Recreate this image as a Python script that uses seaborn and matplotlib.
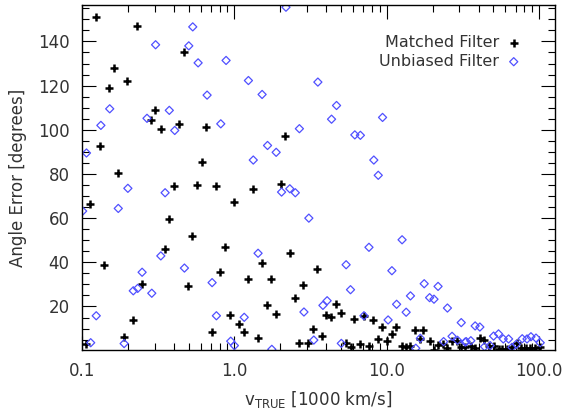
import numpy as np
import pandas as pd
import matplotlib
matplotlib.use('Agg')
import matplotlib.pyplot as plt
import matplotlib.ticker as mticker
import seaborn as sns

# matched filter points (black +)
matched_v = [0.123, 0.229, 0.162, 0.151, 0.198, 0.466, 0.301, 0.284, 0.329, 0.434, 0.131, 0.172, 0.402, 0.571,
             0.113, 0.374, 0.530, 0.349, 0.140, 0.247, 0.499, 0.216, 0.188, 0.107,
             0.655, 0.614, 2.16, 0.755, 1.33, 2.02,
             0.996, 0.873, 2.30, 1.52, 3.49, 0.809, 1.23, 1.75, 2.84, 2.49, 1.64, 1.88, 0.938, 1.08, 1.15, 0.714,
             1.43, 2.66, 3.05, 3.29, 3.78, 4.02, 4.31, 4.65, 5.00, 5.36, 5.84, 6.11, 6.66, 7.11, 7.63, 8.18, 8.75,
             9.33, 11.5, 10.8, 10.1, 15.4, 17.4, 16.5, 19.1, 12.5, 13.3, 14.3, 20.3, 21.7, 23.4, 25.0, 26.8, 28.9, 30.8,
             40.6, 43.6, 46.8, 50.2, 32.6, 35.6, 37.8, 54.1, 57.2, 61.5, 66.2, 71.0, 76.4, 81.8, 87.6, 93.9, 101.6]
matched_err = [150.9, 147.2, 128.1, 119.0, 122.2, 135.2, 108.9, 104.4, 100.3, 102.7, 92.8, 80.3, 74.5, 75.0,
               66.2, 59.6, 52.0, 45.9, 38.8, 30.2, 29.4, 13.7, 6.3, 3.0,
               101.4, 85.2, 97.1, 74.4, 73.2, 75.6,
               67.3, 46.9, 44.3, 39.7, 37.1, 35.6, 32.4, 32.4, 29.7, 24.0, 20.7, 16.7, 16.0, 12.1, 8.6, 8.6,
               5.6, 3.3, 3.3, 9.7, 6.6, 16.0, 15.2, 21.1, 17.2, 3.6, 1.8, 14.2, 3.2, 15.8, 2.1, 13.9, 5.2,
               10.9, 10.9, 7.4, 4.3, 9.5, 9.5, 5.2, 4.3, 2.3, 1.5, 2.0, 0.3, 2.6, 3.0, 1.2, 4.5, 4.5, 1.8,
               5.7, 4.8, 2.1, 2.1, 1.8, 2.1, 1.4, 0.8, 0.8, 0.8, 1.8, 3.5, 1.4, 1.4, 1.4, 1.4, 1.8]

# unbiased filter points (blue diamonds)
unbiased_v = [0.533, 0.304, 0.502, 0.578, 0.152, 0.133, 0.267, 0.374, 0.406, 0.107, 0.200, 0.351,
              0.173, 0.101, 0.329, 0.470, 0.248, 0.217, 0.232, 0.287, 0.124, 0.114, 0.189,
              0.882, 1.236, 1.52, 0.662, 3.53, 4.68, 4.34, 0.814, 2.67, 6.17, 6.71, 1.65, 1.88, 1.33, 8.22, 8.79,
              2.04, 2.31, 2.51, 2.18, 9.38,
              3.08, 7.64, 1.43, 5.41, 0.714, 5.78, 4.06, 3.81, 2.86, 0.762, 1.16, 7.08, 3.32, 0.946, 1.00, 1.76, 5.03,
              12.6, 10.8, 17.6, 21.7, 14.3, 19.1, 20.4, 11.6, 13.4, 25.0, 10.2, 30.8, 16.6, 23.6, 26.8, 29.1, 15.5, 32.7,
              38.0, 40.8, 33.2, 35.6, 50.2, 54.1, 58.1, 63.0, 77.4, 83.2, 88.3, 95.3, 101.6, 43.8, 47.7, 66.2, 70.8]
unbiased_err = [146.6, 138.5, 138.0, 130.3, 109.5, 102.0, 105.2, 108.8, 99.7, 89.5, 73.5, 71.5,
                64.4, 63.2, 42.9, 37.4, 35.5, 27.1, 28.2, 26.0, 15.8, 3.6, 3.2,
                131.4, 122.3, 116.0, 115.7, 121.6, 111.0, 104.8, 102.7, 100.5, 97.7, 97.5, 92.9, 89.8, 86.3, 86.3, 79.4,
                71.8, 73.3, 71.5, 155.5, 105.6,
                60.0, 46.8, 44.1, 38.9, 30.8, 27.6, 22.6, 20.5, 17.5, 15.8, 15.1, 15.8, 4.8, 4.3, 2.3, 0.6, 3.3,
                50.2, 36.2, 30.3, 29.1, 24.8, 24.0, 23.3, 21.0, 17.4, 19.3, 13.9, 12.7, 5.6, 4.1, 6.5, 4.7, 1.1, 3.9,
                11.2, 10.7, 4.1, 4.5, 6.6, 7.6, 5.3, 5.3, 5.4, 5.3, 6.3, 5.7, 3.6, 1.8, 2.3, 1.5, 2.9]

x_ticks = [0.1, 1.0, 10.0, 100.0]
x_ticklabels = ['0.1', '1.0', '10.0', '100.0']
y_ticks = [20, 40, 60, 80, 100, 120, 140]

sns.set_style('ticks')
plt.rcParams['font.family'] = ['DejaVu Sans']

fig = plt.figure(figsize=(5.67, 4.11), dpi=100)
ax = fig.add_axes([82 / 567, 1 - 350 / 411, (555 - 82) / 567, (350 - 5) / 411])

df_m = pd.DataFrame({'v': matched_v, 'err': matched_err})
df_u = pd.DataFrame({'v': unbiased_v, 'err': unbiased_err})

sns.scatterplot(data=df_m, x='v', y='err', ax=ax, marker='+', color='black',
                s=28, linewidth=1.8, label='Matched Filter')
sns.scatterplot(data=df_u, x='v', y='err', ax=ax, marker='D', facecolor='none',
                edgecolor='#5050ff', s=17, linewidth=0.9, label='Unbiased Filter')

ax.set_xscale('log')
ax.set_xlim(0.1, 127)
ax.set_ylim(0.3, 156.5)
ax.set_xticks(x_ticks)
ax.set_xticklabels(x_ticklabels)
ax.xaxis.set_minor_locator(mticker.LogLocator(base=10, subs=np.arange(2, 10)))
ax.xaxis.set_minor_formatter(mticker.NullFormatter())
ax.set_yticks(y_ticks)
ax.yaxis.set_minor_locator(mticker.MultipleLocator(5))

txt = '#333333'
ax.tick_params(which='both', direction='in', top=True, right=True, colors='black',
               labelcolor=txt, labelsize=12, width=0.8)
ax.tick_params(which='major', length=10, pad=9)
ax.tick_params(which='minor', length=5)
for sp in ax.spines.values():
    sp.set_color('black')
    sp.set_linewidth(1.0)

ax.set_xlabel(r'v$_{\mathrm{TRUE}}$ [1000 km/s]', fontsize=12, color=txt, labelpad=6)
ax.set_ylabel('Angle Error [degrees]', fontsize=12, color=txt, labelpad=8)

leg = ax.legend(markerfirst=False, frameon=False, loc='upper right',
                bbox_to_anchor=(0.96, 0.955), fontsize=11.5, handletextpad=0.4,
                labelspacing=0.25, handlelength=1.0)
for t in leg.get_texts():
    t.set_color(txt)

fig.savefig('out.png', dpi=100)
